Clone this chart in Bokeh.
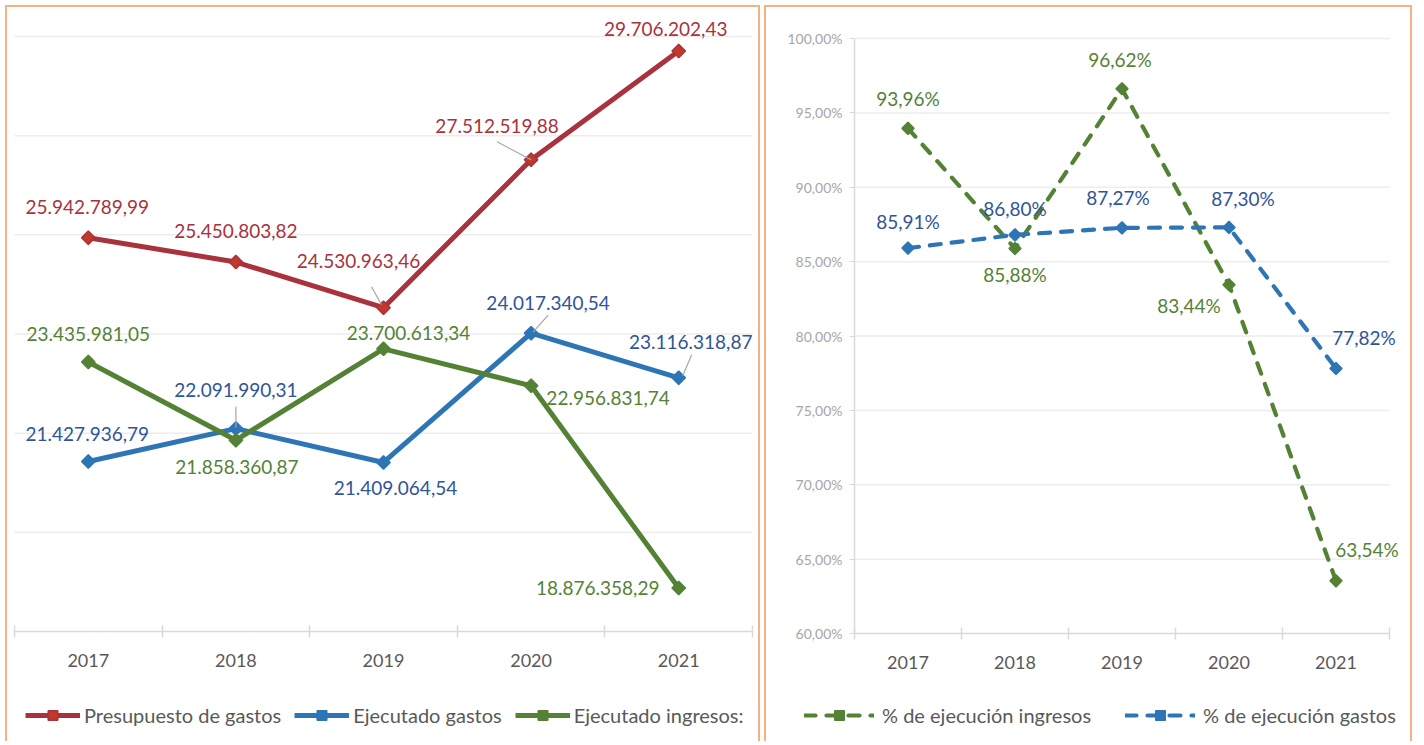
from bokeh.plotting import figure
from bokeh.models import FixedTicker, Range1d, Legend, LegendItem
from bokeh.layouts import row
from bokeh.embed import file_html
from bokeh.resources import INLINE
from bokeh.core.properties import value

# ---------------- data ----------------
years = ["2017", "2018", "2019", "2020", "2021"]
presupuesto_gastos = [25942789.99, 25450803.82, 24530963.46, 27512519.88, 29706202.43]
ejecutado_gastos = [21427936.79, 22091990.31, 21409064.54, 24017340.54, 23116318.87]
ejecutado_ingresos = [23435981.05, 21858360.87, 23700613.34, 22956831.74, 18876358.29]
pct_ingresos = [93.96, 85.88, 96.62, 83.44, 63.54]
pct_gastos = [85.91, 86.80, 87.27, 87.30, 77.82]
left_ticks = [18e6, 20e6, 22e6, 24e6, 26e6, 28e6, 30e6]
right_ticks = [60, 65, 70, 75, 80, 85, 90, 95, 100]
right_tick_labels = ["60,00%", "65,00%", "70,00%", "75,00%", "80,00%", "85,00%", "90,00%", "95,00%", "100,00%"]

# ---------------- styles ----------------
FONT = "Lato"
RED, RED_M, RED_T = "#A9323C", "#C0392B", "#A9323C"
BLUE, BLUE_T = "#2E75B6", "#2F5597"
GREEN, GREEN_T = "#548235", "#548235"
AX = "#D9D9D9"
GRID = "#EDEDED"
BORDER = "#F4B183"
LEADER = "#A6A6A6"
BSTYLE = {"border-top": f"2px solid {BORDER}", "border-left": f"2px solid {BORDER}",
          "border-right": f"2px solid {BORDER}"}

# label offsets in px (dx, dy; dy positive = down)
off_pres = [(-1, -31), (0, -31), (-25, -47), (-34, -34), (-13, -22)]
off_gast = [(-1, -28), (0, -39), (12, 26), (17, -30), (12, -36)]
off_ingr = [(0, -28), (1, 27), (25, -16), (77, 12), (-81, 0)]
lead_pres = {2: ((-12, -21), (-2, -3)), 3: ((-34, -18), (0, 0))}
lead_gast = {1: ((0, -22), (0, -1)), 3: ((17, -18), (2, -1)), 4: ((13, -23), (4, -2))}
off_pi = [(0, -30), (0, 26), (-2, -29), (-40, 21), (31, -31)]
off_pg = [(0, -27), (0, -26), (-4, -30), (14, -29), (28, -31)]


def fmt_money(v):
    s = f"{v:,.2f}"
    return s.replace(",", "X").replace(".", ",").replace("X", ".")


def fmt_pct(v):
    return f"{v:.2f}%".replace(".", ",")


xs = list(range(len(years)))
n = len(years)


def make_fig(W, H, band, ppu, y0, y0_px, x0_px, margin):
    """Frame fills the whole canvas. band: px per category, ppu: px per y unit,
    y0 is drawn at canvas row y0_px, category -0.5 at canvas column x0_px."""
    xr = (-0.5 - x0_px / band, -0.5 + (W - x0_px) / band)
    yr = (y0 - (H - y0_px) / ppu, y0 + y0_px / ppu)
    p = figure(width=W, height=H, output_backend="svg", toolbar_location=None,
               x_range=Range1d(*xr), y_range=Range1d(*yr),
               min_border=0, outline_line_color=None, styles=BSTYLE, margin=margin)
    p.xaxis.fixed_location = y0
    p.xaxis.ticker = FixedTicker(ticks=xs, minor_ticks=[i - 0.5 for i in range(n + 1)])
    p.xaxis.bounds = (-0.5, n - 0.5)
    p.xaxis.major_label_overrides = {i: y for i, y in enumerate(years)}
    p.xaxis.major_tick_in = 0
    p.xaxis.major_tick_out = 0
    p.xaxis.minor_tick_in = 6
    p.xaxis.minor_tick_out = 6
    p.xaxis.minor_tick_line_color = AX
    p.xaxis.minor_tick_line_width = 1.5
    p.xaxis.axis_line_color = AX
    p.xaxis.axis_line_width = 1.5
    p.xaxis.major_label_text_font = FONT
    p.xaxis.major_label_text_font_size = "18px"
    p.xaxis.major_label_text_color = "#595959"
    p.xaxis.major_label_standoff = 16
    p.xgrid.visible = False
    p.ygrid.visible = False
    return p


def add_grid(p, ticks):
    p.segment(x0=[-0.5] * len(ticks), y0=ticks, x1=[n - 0.5] * len(ticks), y1=ticks,
              line_color=GRID, line_width=1.5)


def add_labels(p, ys, texts, offs, color):
    p.text(x=xs, y=ys, text=texts,
           x_offset=[o[0] for o in offs], y_offset=[o[1] for o in offs],
           text_align="center", text_baseline="middle",
           text_font=value(FONT), text_font_size="19px", text_color=color)


def add_leaders(p, ys, leads, kx, ky):
    x0, y0, x1, y1 = [], [], [], []
    for i, ((ax, ay), (bx, by)) in leads.items():
        x0.append(xs[i] + ax * kx); y0.append(ys[i] - ay * ky)
        x1.append(xs[i] + bx * kx); y1.append(ys[i] - by * ky)
    p.segment(x0=x0, y0=y0, x1=x1, y1=y1, line_color=LEADER, line_width=1.2)


def make_legend(items, loc, spacing, gw, standoff):
    return Legend(items=items, location=loc, orientation="horizontal",
                  padding=0, margin=0, spacing=spacing, glyph_width=gw, glyph_height=24,
                  label_standoff=standoff, label_text_font=FONT, label_text_font_size="20px",
                  label_text_color="#595959", border_line_color=None, background_fill_alpha=0)


# ---------------- left chart ----------------
LW, LH = 755, 736
L_BAND = 147.6                     # px per category
L_PPU = 595.0 / (left_ticks[-1] - left_ticks[0])   # px per euro
p1 = make_fig(LW, LH, L_BAND, L_PPU, left_ticks[0], 624, 7, (5, 0, 0, 5))
p1.yaxis.visible = False
add_grid(p1, left_ticks[1:])
lkx, lky = 1.0 / L_BAND, 1.0 / L_PPU

series = [
    ("Presupuesto de gastos", presupuesto_gastos, RED, RED_M, RED_T, off_pres, lead_pres),
    ("Ejecutado gastos", ejecutado_gastos, BLUE, BLUE, BLUE_T, off_gast, lead_gast),
    ("Ejecutado ingresos:", ejecutado_ingresos, GREEN, GREEN, GREEN_T, off_ingr, {}),
]
items = []
for name, ys, lc, mc, tc, offs, leads in series:
    l = p1.line(xs, ys, line_color=lc, line_width=5, line_join="round")
    m = p1.scatter(xs, ys, marker="square", angle=0.785398, size=9.5,
                   fill_color=mc, line_color=lc, line_width=1.5)
    items.append(LegendItem(label=name, renderers=[l, m]))
for name, ys, lc, mc, tc, offs, leads in series:
    if leads:
        add_leaders(p1, ys, leads, lkx, lky)
for name, ys, lc, mc, tc, offs, leads in series:
    add_labels(p1, ys, [fmt_money(v) for v in ys], offs, tc)

p1.add_layout(make_legend(items, (18, 16), 13, 55, 4))

# ---------------- right chart ----------------
RW, RH = 648, 736
R_BAND = 107.0
R_PPU = 595.0 / (right_ticks[-1] - right_ticks[0])
p2 = make_fig(RW, RH, R_BAND, R_PPU, right_ticks[0], 626, 88, (5, 0, 0, 4))
add_grid(p2, right_ticks[1:])
p2.yaxis.fixed_location = -0.5
p2.yaxis.ticker = FixedTicker(ticks=right_ticks)
p2.yaxis.bounds = (right_ticks[0], right_ticks[-1])
p2.yaxis.major_label_overrides = {t: s for t, s in zip(right_ticks, right_tick_labels)}
p2.yaxis.axis_line_color = AX
p2.yaxis.axis_line_width = 1.5
p2.yaxis.major_tick_in = 0
p2.yaxis.major_tick_out = 5
p2.yaxis.major_tick_line_color = AX
p2.yaxis.minor_tick_line_color = None
p2.yaxis.major_label_standoff = 7
p2.yaxis.major_label_text_font = FONT
p2.yaxis.major_label_text_font_size = "14px"
p2.yaxis.major_label_text_color = "#A6A6A6"

items2 = []
for name, ys, lc in [
    ("% de ejecución ingresos", pct_ingresos, GREEN),
    ("% de ejecución gastos", pct_gastos, BLUE),
]:
    l = p2.line(xs, ys, line_color=lc, line_width=4.2, line_dash="11 11", line_cap="round")
    m = p2.scatter(xs, ys, marker="square", angle=0.785398, size=8.5,
                   fill_color=lc, line_color=lc, line_width=1.5)
    items2.append(LegendItem(label=name, renderers=[l, m]))
add_labels(p2, pct_ingresos, [fmt_pct(v) for v in pct_ingresos], off_pi, GREEN_T)
add_labels(p2, pct_gastos, [fmt_pct(v) for v in pct_gastos], off_pg, BLUE_T)

p2.add_layout(make_legend(items2, (38, 16), 34, 70, 8))

layout = row(p1, p2)
open("out.html", "w").write(file_html(layout, INLINE))
